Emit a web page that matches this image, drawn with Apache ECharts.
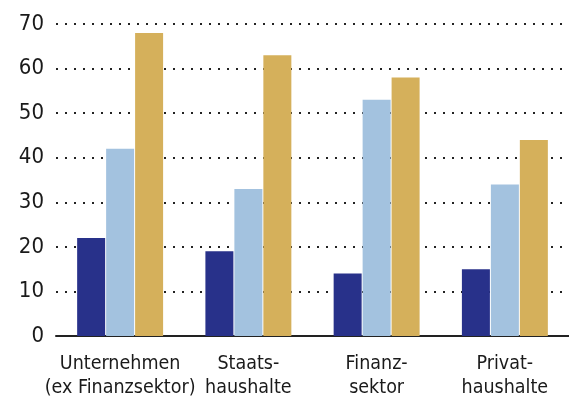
<!DOCTYPE html>
<html>
<head>
<meta charset="utf-8">
<script src="https://cdn.jsdelivr.net/npm/echarts@6/dist/echarts.min.js"></script>
<style>
  html, body { margin: 0; padding: 0; background: #fff; }
  #chart { width: 569px; height: 406px; }
</style>
</head>
<body>
<div id="chart"></div>
<script>
const categories = ['Unternehmen\n(ex Finanzsektor)', 'Staats-\nhaushalte', 'Finanz-\nsektor', 'Privat-\nhaushalte']
const darkValues = [22, 19, 14, 15]
const lightValues = [42, 33, 53, 34]
const goldValues = [68, 63, 58, 44]

const fontFamily = '"DejaVu Sans Condensed", "Open Sans", sans-serif'
const textColor = '#1a1a1a'

const chart = echarts.init(document.getElementById('chart'))

const barSeries = (data, color) => ({
  type: 'bar',
  data,
  barWidth: 28,
  barGap: '3.5%',
  itemStyle: { color },
  z: 3
})

chart.setOption({
  animation: false,
  grid: { left: 56, top: 24, width: 523, height: 312 },
  xAxis: {
    type: 'category',
    data: categories,
    axisLine: { lineStyle: { color: '#222', width: 2 } },
    axisTick: { show: false },
    axisLabel: {
      color: textColor,
      fontFamily,
      fontSize: 19.5,
      lineHeight: 24,
      margin: 16,
      interval: 0
    }
  },
  yAxis: {
    type: 'value',
    min: 0,
    max: 70,
    interval: 10,
    axisLine: { show: false },
    axisTick: { show: false },
    axisLabel: { color: textColor, fontFamily, fontSize: 22, margin: 12 },
    splitLine: {
      lineStyle: { color: '#222', width: 2, type: [2, 7] }
    }
  },
  series: [
    barSeries(darkValues, '#28318a'),
    barSeries(lightValues, '#a3c2df'),
    barSeries(goldValues, '#d5b05b')
  ]
})
</script>
</body>
</html>
